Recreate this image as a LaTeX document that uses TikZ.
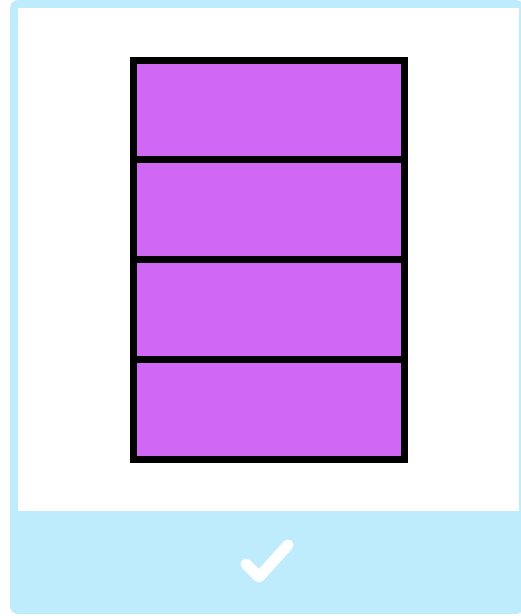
\documentclass[tikz,border=0pt]{standalone}
\usetikzlibrary{positioning}
\definecolor{cardblue}{RGB}{191,236,252}
\definecolor{barpurple}{RGB}{208,104,245}
\tikzset{
	rowbox/.style={draw=black, fill=barpurple, line width=7pt, minimum width=271pt, minimum height=99.75pt, inner sep=0pt, outer sep=0pt},
	tick/.style={draw=white, line width=11pt, line join=round, line cap=round}
}
\begin{document}
\begin{tikzpicture}[x=1pt, y=-1pt]
	\useasboundingbox (0,0) rectangle (520,616);
	% card
	\fill[cardblue, rounded corners=8pt] (10,0) rectangle (524,614);
	\fill[white] (18,8) rectangle (519,511);
	% four rows, stacked
	\node[rowbox] (row1) at (268.5,109.9) {};
	\foreach \i [remember=\i as \j (initially 1)] in {2,3,4}
	\node[rowbox, below=0pt of row\j] (row\i) {};
	% check mark
	\coordinate (T1) at (246,564);
	\coordinate (T2) at (259,577);
	\coordinate (T3) at (288,545);
	\draw[tick] (T1) -- (T2) -- (T3);
\end{tikzpicture}
\end{document}
